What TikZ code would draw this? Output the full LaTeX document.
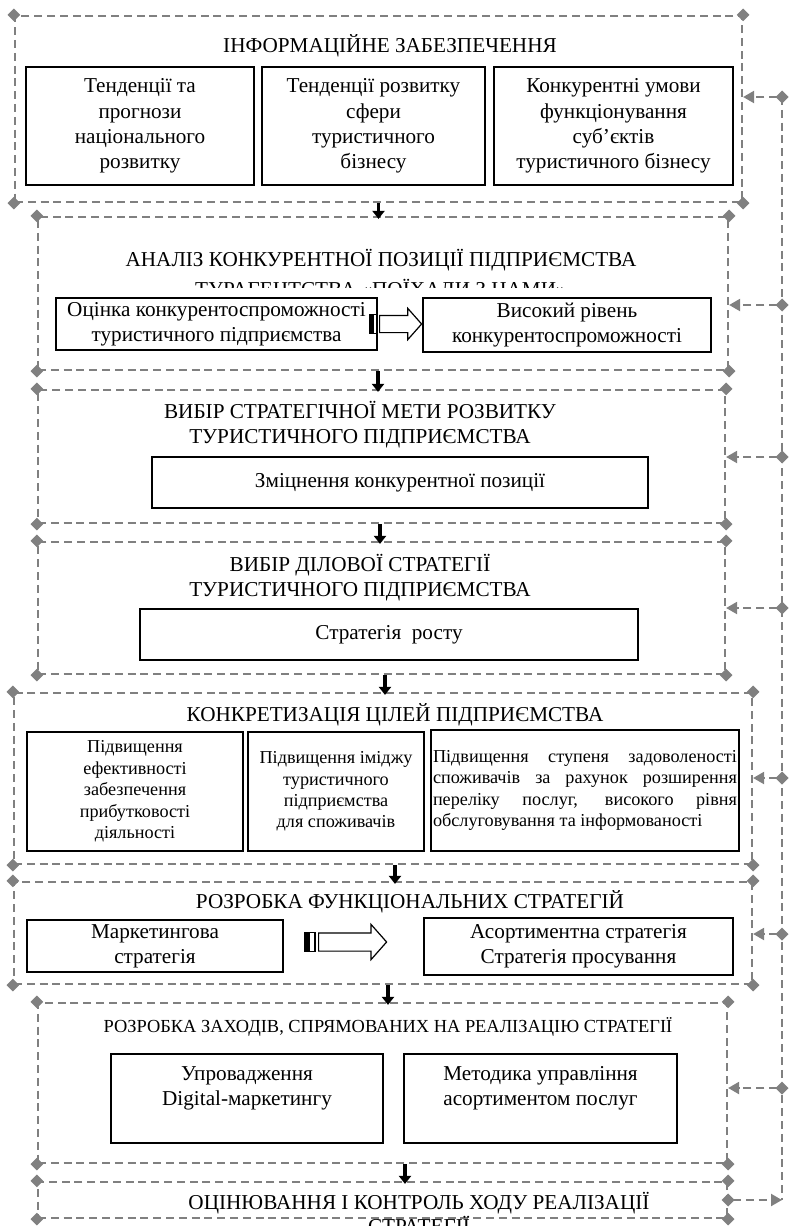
\documentclass[tikz,border=0pt]{standalone}
\usepackage{fontspec}
\setmainfont{Liberation Serif}
\usetikzlibrary{arrows.meta,shapes.geometric,shapes.arrows,fit}
\definecolor{dashgray}{RGB}{128,128,128}

\begin{document}
\begin{tikzpicture}[
    x=0.5pt, y=-0.5pt,
    panel/.style={draw=dashgray, line width=1.1pt, dash pattern=on 4pt off 2.4pt, inner sep=0pt},
    cdia/.style={diamond, fill=dashgray, inner sep=0pt, minimum size=6.5pt},
    box/.style={draw, line width=0.6pt, inner sep=0pt, align=center, font=\fontsize{10.6}{12.6}\selectfont},
    sbox/.style={box, font=\fontsize{9.1}{10.7}\selectfont},
    ttl/.style={align=center, inner sep=0pt, font=\fontsize{10.6}{12.6}\selectfont},
    barr/.style={single arrow, draw, line width=0.6pt, fill=white, inner xsep=0pt, single arrow tip angle=97},
    stripe/.style={draw, line width=0.6pt},
    darr/.style={-{Triangle[length=4pt,width=6pt]}, line width=1.9pt, shorten >=-1.5pt},
    rail/.style={draw=dashgray, line width=1.1pt, dash pattern=on 4pt off 2.4pt},
    fb/.style={rail, {Diamond[length=6.5pt,width=6.5pt]}-{Triangle[length=5.5pt,width=6pt]}, shorten <=-3.25pt}
]
\useasboundingbox (0,0) rectangle (788,1226);

% panels
\node[panel, fit={(15,16) (742,202)}] (p1) {};
\node[panel, fit={(38,217) (728,370)}] (p2) {};
\node[panel, fit={(38,390) (725,523)}] (p3) {};
\node[panel, fit={(38,542) (725,674)}] (p4) {};
\node[panel, fit={(14,693) (752,864)}] (p5) {};
\node[panel, fit={(14,882) (752,984)}] (p6) {};
\node[panel, fit={(38,1003) (727,1163)}] (p7) {};
\node[panel, fit={(38,1182) (727,1218)}] (p8) {};

\foreach \i in {1,...,8}
  \foreach \c in {north west,north east,south west,south east}
    \node[cdia] at (p\i.\c) {};

% information
\node[ttl] (t1) at (390,46) {ІНФОРМАЦІЙНЕ ЗАБЕЗПЕЧЕННЯ};
\node[box, minimum width=114pt, minimum height=59pt] (trend) at (140,126) {Тенденції та\\прогнози\\національного\\розвитку};
\node[box, minimum width=111.5pt, minimum height=59pt] (sfera) at (373.5,126) {Тенденції розвитку\\сфери\\туристичного\\бізнесу};
\node[box, minimum width=119.5pt, minimum height=59pt] (umovy) at (613.5,126) {Конкурентні умови\\функціонування\\суб’єктів\\туристичного бізнесу};

% analysis
\begin{scope}
  \clip (40,230) rectangle (720,287);
  \node[ttl] (t2) at (381,273) {АНАЛІЗ КОНКУРЕНТНОЇ ПОЗИЦІЇ ПІДПРИЄМСТВА\\[2pt]ТУРАГЕНТСТВА «ПОЇХАЛИ З НАМИ»};
\end{scope}
\node[box, minimum width=160.5pt, minimum height=26pt] (ocinka) at (216.5,324) {Оцінка конкурентоспроможності\\туристичного підприємства};
\node[box, minimum width=144pt, minimum height=27pt] (riven) at (567,325) {Високий рівень\\конкурентоспроможності};
\node[barr, minimum height=21pt, inner ysep=4pt, single arrow head extend=3.5pt, anchor=tail] (fa2) at (379,324) {};
\draw[stripe] ([xshift=-1pt]fa2.before tail) rectangle ([xshift=-3pt]fa2.after tail);
\draw[stripe] ([xshift=-3.6pt]fa2.before tail) rectangle ([xshift=-4.5pt]fa2.after tail);

% goal
\node[ttl] (t3) at (360,424.5) {ВИБІР СТРАТЕГІЧНОЇ МЕТИ РОЗВИТКУ\\ТУРИСТИЧНОГО ПІДПРИЄМСТВА};
\node[box, minimum width=248pt, minimum height=25.5pt] (zmic) at (400,482.5) {Зміцнення конкурентної позиції};

% business strategy
\node[ttl] (t4) at (360,577.5) {ВИБІР ДІЛОВОЇ СТРАТЕГІЇ\\ТУРИСТИЧНОГО ПІДПРИЄМСТВА};
\node[box, minimum width=249pt, minimum height=25.5pt] (rist) at (389,634.5) {Стратегія\ \ росту};

% objectives
\node[ttl] (t5) at (395,715) {КОНКРЕТИЗАЦІЯ ЦІЛЕЙ ПІДПРИЄМСТВА};
\node[sbox, minimum width=108pt, minimum height=59.5pt] (efekt) at (135,791.5) {Підвищення\\ефективності\\забезпечення\\прибутковості\\діяльності};
\node[sbox, minimum width=88pt, minimum height=59.5pt] (imidzh) at (336,791.5) {Підвищення іміджу\\туристичного\\підприємства\\для споживачів};
\node[sbox, minimum width=154pt, minimum height=60.5pt, text width=152pt, inner xsep=1pt, align=justify] (zadov) at (585,790.5) {Підвищення ступеня задоволеності\linebreak споживачів за рахунок розширення\linebreak переліку послуг, високого рівня\linebreak обслуговування та інформованості};

% functional strategies
\node[ttl] (t6) at (410,902) {РОЗРОБКА ФУНКЦІОНАЛЬНИХ СТРАТЕГІЙ};
\node[box, minimum width=128pt, minimum height=26pt] (market) at (155,946) {Маркетингова\\стратегія};
\node[barr, minimum height=34pt, inner ysep=4.25pt, single arrow head extend=4.25pt, anchor=tail] (fa6) at (318,942) {};
\draw[stripe] ([xshift=-1.5pt]fa6.before tail) rectangle ([xshift=-4.5pt]fa6.after tail);
\draw[stripe] ([xshift=-5.5pt]fa6.before tail) rectangle ([xshift=-6.5pt]fa6.after tail);
\node[box, minimum width=154.5pt, minimum height=28.5pt] (asort) at (578.5,946.5) {Асортиментна стратегія\\Стратегія просування};

% measures
\node[ttl, font=\fontsize{9.2}{11}\selectfont] (t7) at (388,1027) {РОЗРОБКА ЗАХОДІВ, СПРЯМОВАНИХ НА РЕАЛІЗАЦІЮ СТРАТЕГІЇ};
\node[box, minimum width=136pt, minimum height=44.5pt] (digital) at (247,1098.5) {Упровадження\\Digital-маркетингу\\\mbox{}};
\node[box, minimum width=136.5pt, minimum height=44.5pt] (metod) at (540.5,1098.5) {Методика управління\\асортиментом послуг\\\mbox{}};

% control
\node[ttl, font=\fontsize{10.6}{12}\selectfont] (t8) at (419,1213) {ОЦІНЮВАННЯ І КОНТРОЛЬ ХОДУ РЕАЛІЗАЦІЇ\\СТРАТЕГІЇ};

% flow between stages
\draw[darr] (p1.south) -- (p1.south |- p2.north);
\draw[darr] ([xshift=-2.5pt]p2.south) -- ([xshift=-2.5pt]p2.south |- p3.north);
\draw[darr] ([xshift=-0.75pt]p3.south) -- ([xshift=-0.75pt]p3.south |- p4.north);
\draw[darr] ([xshift=1.75pt]p4.south) -- ([xshift=1.75pt]p4.south |- p5.north);
\draw[darr] ([xshift=6pt]p5.south) -- ([xshift=6pt]p5.south |- p6.north);
\draw[darr] ([xshift=2.5pt]p6.south) -- ([xshift=2.5pt]p6.south |- p7.north);
\draw[darr] ([xshift=11.25pt]p7.south) -- ([xshift=11.25pt]p7.south |- p8.north);

% feedback rail
\coordinate (r1) at (782,97);
\coordinate (r2) at (782,305);
\coordinate (r3) at (782,457);
\coordinate (r4) at (782,608);
\coordinate (r5) at (782,778);
\coordinate (r6) at (782,934);
\coordinate (r7) at (782,1088);
\coordinate (r8) at (p8.east -| r1);
\draw[rail] (r1) -- (r8);
\foreach \i in {1,...,7}
  \draw[fb] (r\i) -- (r\i -| p\i.east);
\draw[fb] (p8.east) -- (r8);
\end{tikzpicture}
\end{document}
